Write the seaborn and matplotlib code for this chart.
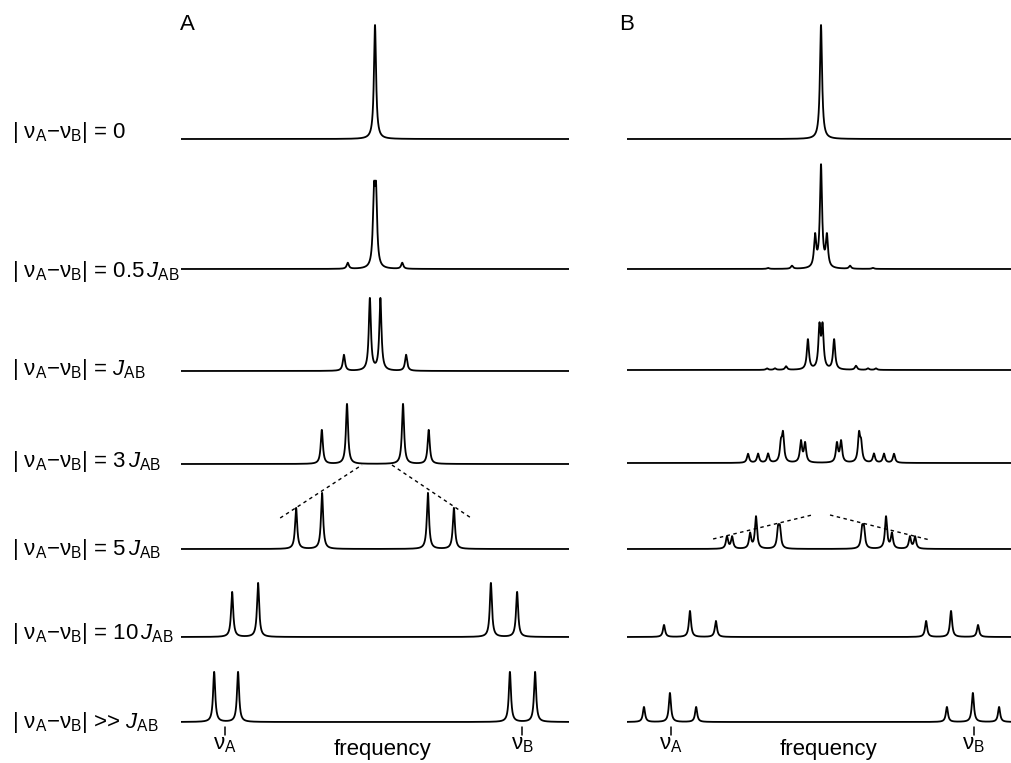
import numpy as np
import pandas as pd
import matplotlib
matplotlib.use("Agg")
import matplotlib.pyplot as plt
import seaborn as sns

# ---------------- data (frequency in Hz, J_AB = 10 Hz; intensity in arbitrary units) ----------------
row_labels = [
    "| ν$_\\mathregular{A}$−ν$_\\mathregular{B}$| = 0",
    "| ν$_\\mathregular{A}$−ν$_\\mathregular{B}$| = 0.5$\\,\\mathit{J}_\\mathregular{AB}$",
    "| ν$_\\mathregular{A}$−ν$_\\mathregular{B}$| = $\\mathit{J}_\\mathregular{AB}$",
    "| ν$_\\mathregular{A}$−ν$_\\mathregular{B}$| = 3$\\,\\mathit{J}_\\mathregular{AB}$",
    "| ν$_\\mathregular{A}$−ν$_\\mathregular{B}$| = 5$\\,\\mathit{J}_\\mathregular{AB}$",
    "| ν$_\\mathregular{A}$−ν$_\\mathregular{B}$| = 10$\\,\\mathit{J}_\\mathregular{AB}$",
    "| ν$_\\mathregular{A}$−ν$_\\mathregular{B}$| >> $\\mathit{J}_\\mathregular{AB}$",
]

# Panel A (AB system): line positions and intensities per row
A_pos = [
    [0.0],
    [-10.6, -0.4, 0.4, 10.6],
    [-12.1, -2.0, 2.1, 12.1],
    [-20.7, -10.9, 10.9, 20.9],
    [-30.7, -20.6, 20.6, 30.7],
    [-55.6, -45.5, 45.1, 55.3],
    [-62.6, -53.3, 52.5, 62.3],
]
A_int = [
    [114],
    [6, 68, 68, 6],
    [16, 72, 72, 16],
    [34, 60, 60, 34],
    [41, 56, 56, 41],
    [45, 54, 54, 45],
    [50, 50, 50, 50],
]

# Panel B (coupled to further spins)
B_pos = [
    [0.0],
    [-20.6, -11.3, -2.3, 0.0, 2.3, 11.3, 20.2],
    [-21.0, -17.9, -13.6, -5.1, -0.6, 0.6, 5.1, 13.6, 18.3, 21.4],
    [-28.4, -24.5, -20.6, -15.6, -14.8, -7.8, -6.2, 6.2, 7.8, 14.8, 15.6, 20.6, 24.5, 28.4],
    [-36.6, -34.6, -27.6, -25.3, -16.7, -16.0, 16.0, 16.7, 25.3, 27.6, 34.6, 36.6],
    [-61.1, -51.0, -40.9, 40.9, 50.6, 61.1],
    [-68.9, -58.8, -48.6, 49.0, 59.1, 69.3],
]
B_int = [
    [114],
    [1, 3, 31, 102, 31, 3, 1],
    [1.5, 1.5, 3.5, 30, 41, 41, 30, 4, 1.5, 1.5],
    [9, 9, 9, 17, 27, 21, 19, 19, 21, 27, 17, 9, 9, 9],
    [12, 12, 15, 32, 18, 18, 18, 18, 32, 15, 12, 12],
    [12, 26, 16, 16, 26, 12],
    [15, 29, 15, 15, 29, 15],
]

# chemical shift markers (bottom row)
A_nu = [-58.4, 57.2]
B_nu = [-58.4, 59.5]
nu_labels = ["ν$_\\mathregular{A}$", "ν$_\\mathregular{B}$"]

# dashed guide lines on the 5 J row (x in Hz, y in intensity above baseline)
A_dash_left_x, A_dash_left_y = [-36.9, -5.1], [31, 84]
A_dash_right_x, A_dash_right_y = [6.6, 37.4], [84, 31]
B_dash_left_x, B_dash_left_y = [-42.0, -3.5], [10, 34]
B_dash_right_x, B_dash_right_y = [3.5, 42.4], [34, 9]

# ---------------- layout ----------------
W, H = 1012, 763
HWHM = 0.5
XLIM = 75.5
base_A = [139, 269, 371, 464, 549, 637, 722]
base_B = [139, 269, 370, 463, 549, 637, 722]
label_base = [138, 277, 375, 467, 555, 639, 728]

sns.set_theme(style="white")
plt.rcParams["font.family"] = ["Liberation Sans", "DejaVu Sans"]
plt.rcParams["text.color"] = "black"
plt.rcParams["mathtext.fontset"] = "custom"
plt.rcParams["mathtext.rm"] = "Liberation Sans"
plt.rcParams["mathtext.it"] = "Liberation Sans:italic"
plt.rcParams["mathtext.bf"] = "Liberation Sans:bold"

FS = 16

fig = plt.figure(figsize=(W / 100, H / 100), dpi=100)
fig.patch.set_facecolor("white")
axA = fig.add_axes([181 / W, 0, 388 / W, 1])
axB = fig.add_axes([627 / W, 0, 388 / W, 1])

grid = np.linspace(-XLIM, XLIM, 12001)


def spectrum(pos, inten):
    x = np.union1d(grid, np.asarray(pos))
    y = np.zeros_like(x)
    for p, a in zip(pos, inten):
        y += a / (1.0 + ((x - p) / HWHM) ** 2)
    return x, y


for ax, P, I, bases in [(axA, A_pos, A_int, base_A), (axB, B_pos, B_int, base_B)]:
    frames = []
    for r, (pos, inten) in enumerate(zip(P, I)):
        x, y = spectrum(pos, inten)
        frames.append(pd.DataFrame({"freq": x, "y": (H - bases[r]) + y, "row": r}))
    df = pd.concat(frames, ignore_index=True)
    sns.lineplot(data=df, x="freq", y="y", units="row", estimator=None, sort=False,
                 color="black", lw=1.3, ax=ax, legend=False)
    ax.set_xlim(-XLIM, XLIM)
    ax.set_ylim(0, H)
    ax.axis("off")

# dashed guides
yb = H - base_A[4]
for xs, ys in [(A_dash_left_x, A_dash_left_y), (A_dash_right_x, A_dash_right_y)]:
    axA.plot(xs, [yb + v for v in ys], color="black", lw=1.0, dashes=(2.5, 2.5))
yb = H - base_B[4]
for xs, ys in [(B_dash_left_x, B_dash_left_y), (B_dash_right_x, B_dash_right_y)]:
    axB.plot(xs, [yb + v for v in ys], color="black", lw=1.0, dashes=(2.5, 2.5))

# chemical shift ticks and labels
for ax, nus in [(axA, A_nu), (axB, B_nu)]:
    for xv, lab in zip(nus, nu_labels):
        ax.plot([xv, xv], [H - 727, H - 735], color="black", lw=1.1)
        ax.text(xv, H - 749, lab, ha="center", va="baseline", fontsize=FS)
    ax.text(3.0, H - 755, "frequency", ha="center", va="baseline", fontsize=FS)

# row labels
for lab, yb in zip(row_labels, label_base):
    fig.text(12 / W, (H - yb) / H, lab, ha="left", va="baseline", fontsize=FS)

# panel letters
fig.text(180 / W, (H - 30) / H, "A", ha="left", va="baseline", fontsize=FS)
fig.text(619 / W, (H - 30) / H, "B", ha="left", va="baseline", fontsize=FS)

fig.savefig("out.png", dpi=100, facecolor="white")
